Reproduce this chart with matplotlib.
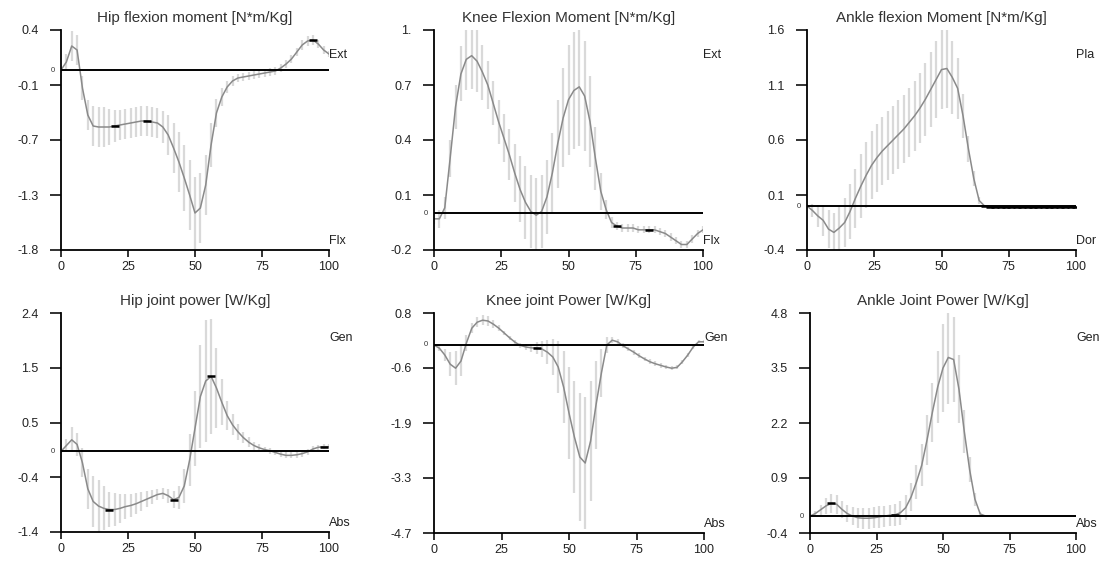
import numpy as np
import matplotlib
matplotlib.use("Agg")
import matplotlib.pyplot as plt
from matplotlib.ticker import FixedLocator

plt.rcParams['font.family'] = ['Liberation Sans', 'DejaVu Sans']

# gait cycle (%), one sample every 2 %
gait = np.arange(0, 101, 2)

titles = ["Hip flexion moment [N*m/Kg]", "Knee Flexion Moment [N*m/Kg]",
          "Ankle flexion Moment [N*m/Kg]", "Hip joint power [W/Kg]",
          "Knee joint Power [W/Kg]", "Ankle Joint Power [W/Kg]"]
top_labels = ["Ext", "Ext", "Pla", "Gen", "Gen", "Gen"]
bottom_labels = ["Flx", "Flx", "Dor", "Abs", "Abs", "Abs"]

y_limits = [(-1.8, 0.4), (-0.2, 1.0), (-0.4, 1.6),
            (-1.4, 2.4), (-4.7, 0.8), (-0.4, 4.8)]
y_ticklabels = [["-1.8", "-1.3", "-0.7", "-0.1", "0.4"],
                ["-0.2", "0.1", "0.4", "0.7", "1."],
                ["-0.4", "0.1", "0.6", "1.1", "1.6"],
                ["-1.4", "-0.4", "0.5", "1.5", "2.4"],
                ["-4.7", "-3.3", "-1.9", "-0.6", "0.8"],
                ["-0.4", "0.9", "2.2", "3.5", "4.8"]]
x_ticks = [0, 25, 50, 75, 100]

hip_mom_mean = [0.0, 0.08, 0.24, 0.20, -0.18, -0.45, -0.56, -0.57, -0.57, -0.57,
                -0.56, -0.55, -0.54, -0.53, -0.52, -0.51, -0.51, -0.52, -0.53, -0.57,
                -0.65, -0.78, -0.92, -1.08, -1.25, -1.43, -1.38, -1.15, -0.75, -0.43,
                -0.27, -0.17, -0.11, -0.08, -0.07, -0.06, -0.05, -0.04, -0.03, -0.02,
                -0.01, 0.02, 0.06, 0.11, 0.18, 0.25, 0.29, 0.30, 0.26, 0.20, 0.16]
hip_mom_sd = [0.03, 0.08, 0.15, 0.15, 0.12, 0.15, 0.20, 0.20, 0.20, 0.18,
              0.16, 0.15, 0.15, 0.15, 0.15, 0.15, 0.15, 0.15, 0.15, 0.16,
              0.20, 0.25, 0.30, 0.33, 0.35, 0.36, 0.35, 0.30, 0.22, 0.14,
              0.09, 0.06, 0.05, 0.04, 0.04, 0.04, 0.04, 0.04, 0.04, 0.04,
              0.04, 0.04, 0.04, 0.04, 0.04, 0.05, 0.05, 0.05, 0.04, 0.04, 0.03]

knee_mom_mean = [-0.03, -0.03, 0.03, 0.30, 0.58, 0.76, 0.84, 0.86, 0.83, 0.77,
                 0.70, 0.60, 0.50, 0.41, 0.32, 0.22, 0.13, 0.06, 0.01, -0.01,
                 0.01, 0.09, 0.22, 0.38, 0.52, 0.62, 0.67, 0.69, 0.64, 0.50,
                 0.30, 0.12, 0.02, -0.05, -0.07, -0.08, -0.08, -0.08, -0.09, -0.09,
                 -0.09, -0.09, -0.10, -0.11, -0.13, -0.15, -0.17, -0.17, -0.14, -0.11, -0.09]
knee_mom_sd = [0.03, 0.05, 0.06, 0.10, 0.12, 0.15, 0.17, 0.18, 0.17, 0.15,
               0.13, 0.12, 0.12, 0.13, 0.14, 0.16, 0.18, 0.20, 0.20, 0.20,
               0.20, 0.20, 0.22, 0.24, 0.27, 0.30, 0.32, 0.32, 0.30, 0.25,
               0.17, 0.10, 0.05, 0.03, 0.02, 0.02, 0.02, 0.02, 0.02, 0.02,
               0.02, 0.02, 0.02, 0.02, 0.02, 0.02, 0.02, 0.02, 0.02, 0.02, 0.02]

ankle_mom_mean = [0.0, -0.04, -0.09, -0.13, -0.21, -0.24, -0.20, -0.15, -0.05, 0.07,
                  0.18, 0.28, 0.37, 0.44, 0.50, 0.55, 0.60, 0.65, 0.70, 0.76,
                  0.82, 0.89, 0.97, 1.06, 1.15, 1.24, 1.25, 1.17, 1.07, 0.82,
                  0.52, 0.25, 0.05, 0.0, -0.01, -0.01, -0.01, -0.01, -0.01, -0.01,
                  -0.01, -0.01, -0.01, -0.01, -0.01, -0.01, -0.01, -0.01, -0.01, -0.01, -0.01]
ankle_mom_sd = [0.02, 0.06, 0.10, 0.14, 0.17, 0.18, 0.20, 0.22, 0.25, 0.27,
                0.29, 0.30, 0.31, 0.31, 0.31, 0.31, 0.31, 0.31, 0.31, 0.31,
                0.32, 0.32, 0.33, 0.34, 0.35, 0.36, 0.36, 0.33, 0.28, 0.20,
                0.12, 0.07, 0.03, 0.01, 0.01, 0.01, 0.01, 0.01, 0.01, 0.01,
                0.01, 0.01, 0.01, 0.01, 0.01, 0.01, 0.01, 0.01, 0.01, 0.01, 0.01]

hip_pow_mean = [0.0, 0.10, 0.20, 0.12, -0.20, -0.65, -0.87, -0.95, -0.99, -1.01,
                -1.01, -0.99, -0.96, -0.94, -0.91, -0.87, -0.83, -0.79, -0.75, -0.73,
                -0.77, -0.84, -0.80, -0.60, -0.15, 0.40, 0.95, 1.22, 1.30, 1.10,
                0.85, 0.62, 0.46, 0.34, 0.24, 0.16, 0.10, 0.06, 0.03, 0.01,
                -0.02, -0.05, -0.07, -0.07, -0.06, -0.04, -0.01, 0.04, 0.07, 0.08, 0.08]
hip_pow_sd = [0.03, 0.12, 0.22, 0.20, 0.25, 0.35, 0.45, 0.45, 0.38, 0.30,
              0.28, 0.25, 0.22, 0.20, 0.18, 0.16, 0.14, 0.12, 0.10, 0.10,
              0.12, 0.15, 0.20, 0.30, 0.45, 0.65, 0.90, 1.05, 1.00, 0.70,
              0.40, 0.25, 0.18, 0.14, 0.10, 0.08, 0.07, 0.06, 0.05, 0.05,
              0.05, 0.05, 0.05, 0.05, 0.05, 0.05, 0.05, 0.05, 0.04, 0.04, 0.04]

knee_pow_mean = [0.0, -0.08, -0.25, -0.48, -0.58, -0.40, 0.05, 0.42, 0.57, 0.62,
                 0.60, 0.52, 0.42, 0.30, 0.18, 0.07, -0.01, -0.05, -0.07, -0.08,
                 -0.10, -0.18, -0.30, -0.55, -1.05, -1.70, -2.30, -2.80, -2.95, -2.40,
                 -1.50, -0.70, 0.0, 0.12, 0.08, -0.02, -0.10, -0.18, -0.27, -0.35,
                 -0.42, -0.47, -0.51, -0.55, -0.58, -0.56, -0.42, -0.25, -0.05, 0.08, 0.08]
knee_pow_sd = [0.03, 0.08, 0.15, 0.30, 0.42, 0.38, 0.20, 0.12, 0.12, 0.13,
               0.12, 0.10, 0.08, 0.06, 0.05, 0.05, 0.06, 0.08, 0.10, 0.15,
               0.20, 0.30, 0.45, 0.65, 0.90, 1.15, 1.40, 1.60, 1.65, 1.50,
               1.10, 0.60, 0.20, 0.08, 0.06, 0.06, 0.06, 0.06, 0.06, 0.06,
               0.06, 0.06, 0.06, 0.06, 0.05, 0.05, 0.05, 0.05, 0.04, 0.04, 0.04]

ankle_pow_mean = [0.0, 0.06, 0.15, 0.24, 0.30, 0.28, 0.16, 0.06, 0.0, -0.04,
                  -0.05, -0.05, -0.04, -0.02, 0.0, 0.02, 0.03, 0.08, 0.20, 0.45,
                  0.80, 1.20, 1.80, 2.45, 3.05, 3.50, 3.75, 3.70, 3.00, 2.00,
                  1.10, 0.40, 0.05, 0.0, 0.0, 0.0, 0.0, 0.0, 0.0, 0.0,
                  0.0, 0.0, 0.0, 0.0, 0.0, 0.0, 0.0, 0.0, 0.0, 0.0, 0.0]
ankle_pow_sd = [0.02, 0.06, 0.12, 0.18, 0.22, 0.22, 0.20, 0.20, 0.22, 0.24,
                0.25, 0.25, 0.25, 0.25, 0.25, 0.25, 0.26, 0.28, 0.30, 0.33,
                0.40, 0.50, 0.60, 0.70, 0.85, 1.05, 1.10, 1.00, 0.80, 0.50,
                0.30, 0.15, 0.05, 0.02, 0.02, 0.02, 0.02, 0.02, 0.02, 0.02,
                0.02, 0.02, 0.02, 0.02, 0.02, 0.02, 0.02, 0.02, 0.02, 0.02, 0.02]

# gait-cycle positions of the short black event marks
marks = [[20, 32, 94],
         [68, 80],
         list(range(66, 101, 2)),
         [18, 42, 56, 98],
         [38],
         [8, 32]]

means = [hip_mom_mean, knee_mom_mean, ankle_mom_mean,
         hip_pow_mean, knee_pow_mean, ankle_pow_mean]
sds = [hip_mom_sd, knee_mom_sd, ankle_mom_sd,
       hip_pow_sd, knee_pow_sd, ankle_pow_sd]

W, H = 1116, 563
# axes boxes in pixels: left, right, top, bottom
boxes = [(61, 329, 30, 250), (434, 703, 30, 250), (807, 1076, 30, 250),
         (61, 329, 313, 532), (434, 704, 313, 533), (810, 1076, 313, 533)]

fig = plt.figure(figsize=(W / 100, H / 100), dpi=100)

for i in range(6):
    l, r, t, b = boxes[i]
    ax = fig.add_axes([l / W, 1 - b / H, (r - l) / W, (b - t) / H])

    m = np.array(means[i])
    s = np.array(sds[i])
    ax.vlines(gait, m - s, m + s, color='#d9d9d9', lw=1.6, zorder=1)
    ax.plot(gait, m, color='#8a8a8a', lw=1.1, zorder=2)
    ax.axhline(0, color='black', lw=1.4, zorder=3)

    mk_y = [m[list(gait).index(x)] for x in marks[i]]
    ax.plot(marks[i], mk_y, ls='none', marker='_', color='black',
            markersize=6, mew=1.8, zorder=4)

    y0, y1 = y_limits[i]
    ax.set_xlim(0, 100)
    ax.set_ylim(y0, y1)
    ax.yaxis.set_major_locator(FixedLocator(np.linspace(y0, y1, 5)))
    ax.set_yticklabels(y_ticklabels[i])
    ax.set_xticks(x_ticks)

    for side in ['top', 'right']:
        ax.spines[side].set_visible(False)
    for side in ['left', 'bottom']:
        ax.spines[side].set_linewidth(1.3)
    ax.tick_params(axis='y', direction='out', length=8, width=1.3,
                   labelsize=9, pad=8, colors='#222222')
    ax.tick_params(axis='x', direction='out', length=5, width=1.3,
                   labelsize=9, pad=3, colors='#222222')

    ax.set_title(titles[i], fontsize=11, color='#333333', pad=6)
    ax.text(1.0, 0.885, top_labels[i], transform=ax.transAxes,
            fontsize=9, ha='left', va='center', color='#222222')
    ax.text(1.0, 0.04, bottom_labels[i], transform=ax.transAxes,
            fontsize=9, ha='left', va='center', color='#222222')
    ax.text(-0.032, 0, "0", transform=ax.get_yaxis_transform(),
            fontsize=5.5, ha='center', va='center', color='#333333')

fig.savefig("out.png", dpi=100)
